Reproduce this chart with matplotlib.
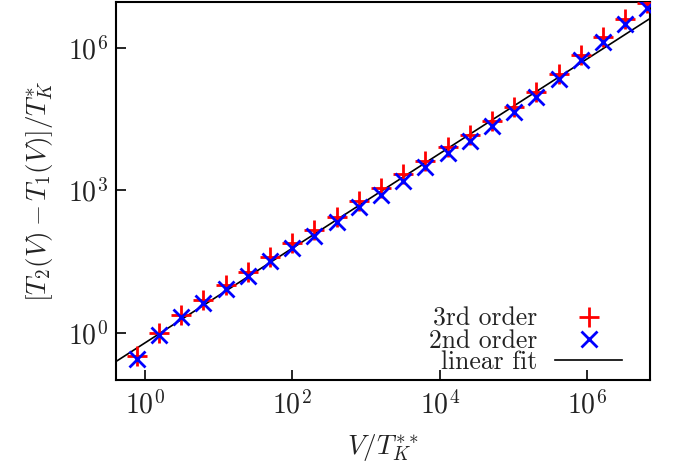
import matplotlib

matplotlib.use('Agg')
import matplotlib.pyplot as plt
import numpy as np

# data
v_values = [0.78, 1.56, 3.1, 6.25, 12.5, 25, 50, 100, 200, 400, 800, 1600, 3200,
            6400, 12800, 25600, 51200, 1.02e5, 2.05e5, 4.1e5, 8.2e5, 1.64e6,
            3.28e6, 6.55e6]
third_order = [0.32, 1.0, 2.4, 4.9, 10, 19, 39, 79, 145, 282, 589, 1150, 2190,
               4270, 8130, 14500, 28800, 58900, 1.20e5, 2.82e5, 7.08e5, 1.74e6,
               4.17e6, 9.12e6]
second_order = [0.28, 0.87, 2.1, 4.3, 8.5, 16, 32, 62, 112, 219, 457, 813, 1550,
                3160, 6310, 11200, 22400, 45700, 95500, 2.29e5, 5.75e5, 1.38e6,
                3.31e6, 7.24e6]
fit_coef = 0.60
fit_exp = 1.0
x_ticks = [1e0, 1e2, 1e4, 1e6]
y_ticks = [1e0, 1e3, 1e6]

plt.rcParams['mathtext.fontset'] = 'cm'
plt.rcParams['font.family'] = 'serif'
plt.rcParams['font.serif'] = ['cmr10', 'DejaVu Serif']
plt.rcParams['axes.unicode_minus'] = False
plt.rcParams['axes.formatter.use_mathtext'] = True

txt = '#222222'
fs = 20

fig = plt.figure(figsize=(6.73, 4.67), dpi=100)
ax = fig.add_axes([0.1724, 0.1863, 0.7934, 0.8094])

xlim = (0.41, 7.1e6)
ylim = (0.1, 9.5e6)

xf = np.array(xlim)
ax.plot(xf, fit_coef * xf ** fit_exp, color='black', lw=1.2, label='linear fit', zorder=3)
ax.plot(v_values, third_order, ls='none', marker='+', ms=14, mew=2.0,
        color='#ff0000', label='3rd order', zorder=4)
ax.plot(v_values, second_order, ls='none', marker='x', ms=12, mew=2.0,
        color='#0000ff', label='2nd order', zorder=5)

ax.set_xscale('log')
ax.set_yscale('log')
ax.set_xlim(*xlim)
ax.set_ylim(*ylim)
ax.set_xticks(x_ticks)
ax.set_yticks(y_ticks)
ax.minorticks_off()
ax.tick_params(direction='in', length=7, width=1.2, labelsize=fs, colors='black',
               labelcolor=txt, top=False, right=False)
ax.tick_params(axis='x', pad=8)
ax.tick_params(axis='y', pad=6)
for s in ax.spines.values():
    s.set_linewidth(1.5)

ax.set_xlabel(r'$V/T_K^{**}$', fontsize=19.5, color=txt, labelpad=9)
ax.set_ylabel(r'$[T_2(V)-T_1(V)]/T_K^{*}$', fontsize=19.5, color=txt, labelpad=9)

h, l = ax.get_legend_handles_labels()
order = [1, 2, 0]
ax.legend([h[i] for i in order], [l[i] for i in order], loc='lower right',
          bbox_to_anchor=(0.948, 0.015), frameon=False, markerfirst=False,
          fontsize=18.5, labelcolor=txt, handlelength=2.6, handletextpad=0.7,
          labelspacing=-0.08, borderpad=0.0, borderaxespad=0.0)

fig.savefig('out.png', dpi=100)
